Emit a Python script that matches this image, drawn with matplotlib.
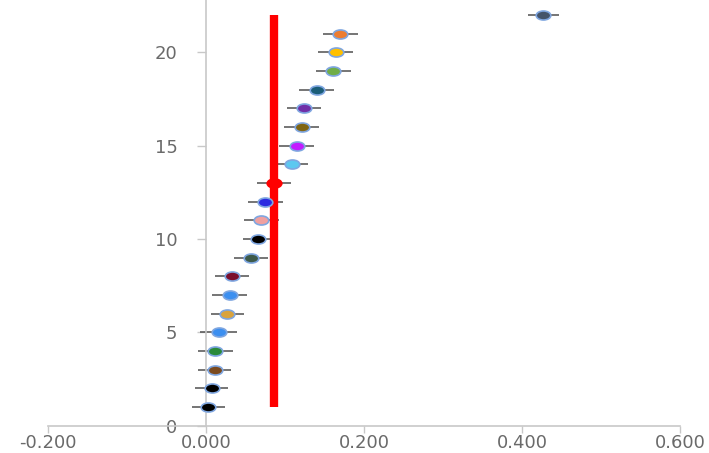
import matplotlib
matplotlib.use('Agg')
import matplotlib.pyplot as plt
from matplotlib.path import Path
from matplotlib.transforms import Affine2D
import numpy as np


# values
y_pos = [1, 2, 3, 4, 5, 6, 7, 8, 9, 10, 11, 12, 13, 14, 15, 16, 17, 18, 19, 20, 21, 22]
x_val = [0.003, 0.007, 0.011, 0.012, 0.016, 0.027, 0.030, 0.033, 0.057, 0.066, 0.070,
         0.075, 0.086, 0.109, 0.115, 0.121, 0.124, 0.140, 0.161, 0.164, 0.170, 0.427]
x_err = [0.021, 0.021, 0.021, 0.022, 0.023, 0.021, 0.022, 0.022, 0.022, 0.019, 0.022,
         0.022, 0.021, 0.020, 0.022, 0.022, 0.021, 0.022, 0.022, 0.022, 0.022, 0.020]
point_colors = ['#000000', '#000000', '#7b4a1e', '#2a8a3a', '#3c8ff0', '#d9a33e',
                '#3c8ff0', '#7b0f2e', '#3d5a4a', '#000000', '#f0a0a0', '#2a2ae0',
                '#ff0000', '#5cc8f0', '#c21cff', '#7f6514', '#7030a8', '#1b5d78',
                '#70ad47', '#ffc000', '#ed7d31', '#44546a']

mean_x = 0.086
mean_y = [1, 22]

x_ticks = [-0.2, 0.0, 0.2, 0.4, 0.6]
x_ticklabels = ['-0.200', '0.000', '0.200', '0.400', '0.600']
y_ticks = [0, 5, 10, 15, 20]


# squashed circle, like the stretched excel markers
ellipse = Path.unit_circle().transformed(Affine2D().scale(1.0, 0.62))

fig = plt.figure(figsize=(7.09, 4.53), dpi=100)
ax = fig.add_axes([0.0677, 0.06, 0.8914, 0.94])

for x, y, e, c in zip(x_val, y_pos, x_err, point_colors):
    edge = '#ff0000' if c == '#ff0000' else '#7fa6e0'
    ax.errorbar(x, y, xerr=e, fmt='none', ecolor='#505050', elinewidth=1.1,
                capsize=0, zorder=2)
    ax.plot(x, y, marker=ellipse, markersize=10.5, color=c,
            markeredgecolor=edge, markeredgewidth=1.2, linestyle='none', zorder=4)

ax.plot([mean_x, mean_x], mean_y, color='#ff0000', linewidth=6,
        solid_capstyle='butt', zorder=3)

ax.set_xlim(-0.2, 0.6)
ax.set_ylim(0, 22.8)

ax.spines['top'].set_visible(False)
ax.spines['right'].set_visible(False)
ax.spines['left'].set_position(('data', 0))
for side in ['left', 'bottom']:
    ax.spines[side].set_color('#c8c8c8')
    ax.spines[side].set_linewidth(1.2)

ax.set_xticks(x_ticks)
ax.set_xticklabels(x_ticklabels)
ax.set_yticks(y_ticks)
ax.tick_params(axis='x', direction='out', length=5, width=1, color='#c8c8c8',
               labelsize=13, labelcolor='#6a6a6a', pad=1)
ax.tick_params(axis='y', direction='out', length=6.5, width=1, color='#c8c8c8',
               labelsize=13, labelcolor='#6a6a6a', pad=14)

fig.savefig('out.png', dpi=100)
